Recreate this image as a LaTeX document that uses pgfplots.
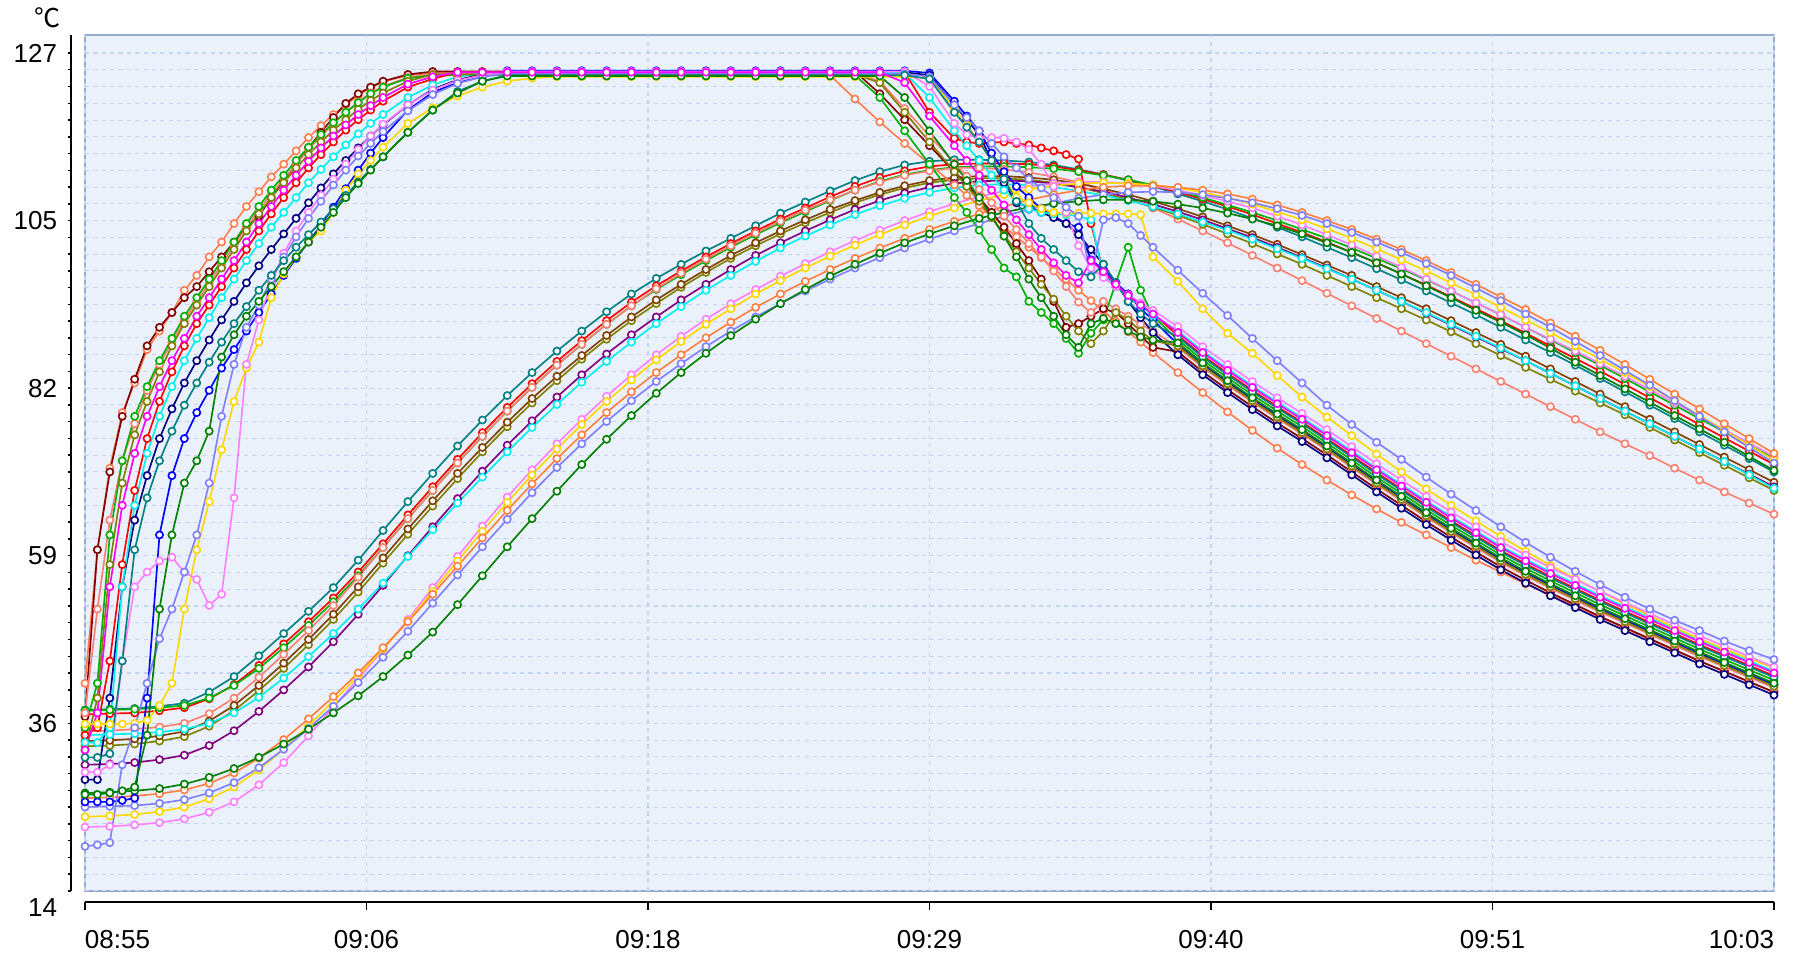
\documentclass[border=0pt]{standalone}
\usepackage{pgfplots}
\usepackage{pgfplotstable}
\pgfplotsset{compat=1.18}
\usepackage{fontspec}
\setmainfont{Liberation Sans}
\newfontfamily\cjk{Noto Sans CJK JP}
\definecolor{bgc}{RGB}{235,241,251}
\definecolor{bordc}{RGB}{150,172,204}
\definecolor{gridc}{RGB}{196,212,240}
\definecolor{tealc}{RGB}{0,128,128}
\definecolor{redc}{RGB}{255,0,0}
\definecolor{greenc}{RGB}{0,176,0}
\definecolor{salmonc}{RGB}{250,128,114}
\definecolor{olivec}{RGB}{128,128,0}
\definecolor{brownc}{RGB}{128,64,0}
\definecolor{purplec}{RGB}{128,0,128}
\definecolor{cyanc}{RGB}{0,240,240}
\definecolor{pinkc}{RGB}{255,128,255}
\definecolor{yellowc}{RGB}{255,215,0}
\definecolor{orangec}{RGB}{255,128,64}
\definecolor{lavc}{RGB}{128,128,255}
\definecolor{dkgreenc}{RGB}{0,128,0}
\definecolor{coralc}{RGB}{255,127,80}
\definecolor{darkredc}{RGB}{128,0,0}
\definecolor{bluec}{RGB}{0,0,255}
\definecolor{navyc}{RGB}{0,0,128}
\definecolor{magentac}{RGB}{255,0,255}

\pgfplotstableread[header=false]{
t 0 1 2 3 4 5 6 7 8 9 10 11 12 13 14 15 16 17 18 19 20 21 22 23 24 25 26 27 28 29 30 31 32 33 34 35 36 37 38 39 40 41 42 43 44 45 46 47 48 49 50 51 52 53 54 55 56 57 58 59 60 61 62 63 64 65 66 67 68
steal 38.4 38.5 38.6 38.9 39.3 40.8 42.9 45.7 48.7 51.7 54.9 58.6 62.6 66.5 70.3 74.0 77.5 80.8 83.9 86.8 89.5 92.1 94.5 96.6 98.5 100.3 102.0 103.7 105.4 106.9 108.4 109.8 111.0 111.9 112.4 112.6 112.6 112.5 112.3 111.9 111.3 110.6 109.8 109.0 108.0 107.0 105.9 104.7 103.5 102.2 100.8 99.4 97.9 96.4 94.9 93.3 91.7 90.0 88.3 86.6 84.9 83.1 81.3 79.5 77.7 75.9 74.1 72.3 70.5
sred 37.8 37.9 38.0 38.3 38.7 39.9 41.8 44.4 47.3 50.3 53.5 57.0 60.8 64.7 68.5 72.2 75.8 79.2 82.4 85.4 88.2 90.9 93.4 95.6 97.6 99.5 101.3 103.0 104.6 106.1 107.6 109.0 110.2 111.1 111.7 112.0 112.1 112.1 112.0 111.7 111.2 110.6 109.9 109.1 108.2 107.3 106.3 105.2 104.0 102.8 101.5 100.1 98.7 97.2 95.7 94.1 92.5 90.9 89.2 87.5 85.8 84.1 82.3 80.5 78.7 76.9 75.1 73.3 71.5
sgreen 38.3 38.4 38.5 38.7 39.0 40.0 41.7 44.0 46.8 49.8 53.0 56.5 60.3 64.2 68.0 71.7 75.3 78.7 81.9 84.9 87.7 90.4 92.9 95.1 97.1 99.0 100.8 102.5 104.1 105.6 107.1 108.5 109.7 110.6 111.2 111.6 111.7 111.7 111.6 111.4 111.0 110.5 109.9 109.2 108.4 107.5 106.5 105.5 104.4 103.2 102.0 100.7 99.3 97.9 96.4 94.9 93.3 91.7 90.0 88.3 86.6 84.9 83.1 81.3 79.5 77.7 75.9 74.1 72.3
ssalmon 35.5 35.6 35.8 36.1 36.6 37.9 40.0 42.8 45.9 49.1 52.5 56.3 60.3 64.2 68.0 71.7 75.3 78.7 81.9 84.9 87.7 90.4 92.9 95.2 97.3 99.2 101.0 102.7 104.3 105.8 107.2 108.5 109.6 110.5 111.1 111.5 111.5 111.3 110.9 110.3 109.6 108.6 107.4 106.1 104.6 103.0 101.4 99.7 98.0 96.3 94.6 92.9 91.2 89.5 87.8 86.1 84.4 82.7 81.0 79.3 77.6 75.9 74.3 72.7 71.0 69.4 67.8 66.3 64.8
solive 33.5 33.6 33.8 34.2 34.8 36.2 38.3 41.0 44.0 47.2 50.6 54.3 58.2 62.1 65.9 69.6 73.2 76.6 79.8 82.8 85.7 88.4 90.9 93.2 95.4 97.4 99.3 101.0 102.6 104.1 105.5 106.8 107.9 108.8 109.5 109.9 110.1 110.1 109.9 109.5 108.9 108.1 107.2 106.2 105.1 103.9 102.6 101.3 99.9 98.5 97.0 95.5 94.0 92.5 91.0 89.4 87.8 86.2 84.6 83.0 81.4 79.8 78.2 76.5 74.8 73.1 71.4 69.7 68.0
sbrown 34.2 34.3 34.5 34.9 35.5 36.9 39.0 41.7 44.7 47.9 51.3 55.0 58.9 62.8 66.6 70.3 73.8 77.2 80.4 83.4 86.2 88.9 91.4 93.7 95.8 97.8 99.7 101.4 103.0 104.5 105.9 107.1 108.2 109.1 109.8 110.2 110.4 110.4 110.2 109.9 109.4 108.7 107.9 107.0 106.0 104.9 103.7 102.5 101.2 99.8 98.4 97.0 95.5 94.0 92.5 90.9 89.3 87.7 86.1 84.4 82.7 81.0 79.3 77.6 75.9 74.2 72.5 70.8 69.1
spurple 31.0 31.1 31.3 31.7 32.3 33.6 35.6 38.2 41.1 44.2 47.6 51.3 55.2 59.2 63.1 66.9 70.6 74.1 77.4 80.6 83.6 86.4 89.0 91.4 93.7 95.8 97.8 99.7 101.4 103.0 104.5 105.9 107.1 108.1 108.9 109.4 109.7 109.8 109.7 109.4 108.9 108.3 107.5 106.6 105.6 104.5 103.3 102.1 100.8 99.4 98.0 96.5 95.0 93.5 91.9 90.3 88.7 87.1 85.5 83.8 82.1 80.4 78.7 77.0 75.3 73.6 71.9 70.2 68.5
scyan 35.0 35.1 35.2 35.4 35.8 36.6 38.0 40.1 42.7 45.6 48.7 52.0 55.5 59.1 62.7 66.3 69.8 73.2 76.5 79.6 82.6 85.4 88.0 90.5 92.8 95.0 97.0 98.9 100.7 102.3 103.8 105.2 106.4 107.4 108.2 108.8 109.2 109.3 109.2 108.9 108.4 107.8 107.1 106.3 105.3 104.2 103.1 101.9 100.6 99.3 97.9 96.5 95.0 93.5 92.0 90.4 88.8 87.2 85.5 83.8 82.1 80.4 78.7 77.0 75.3 73.6 71.9 70.1 68.3
spink 22.6 22.7 22.9 23.2 23.7 24.6 26.0 28.3 31.3 34.9 38.8 42.6 46.5 50.6 54.9 59.1 63.2 67.1 70.8 74.3 77.6 80.7 83.6 86.3 88.8 91.1 93.2 95.1 96.9 98.6 100.2 101.7 103.1 104.4 105.6 106.7 107.6 108.4 109.0 109.4 109.6 109.6 109.4 109.0 108.5 107.8 107.0 106.1 105.0 103.8 102.5 101.1 99.6 98.1 96.5 94.9 93.3 91.7 90.0 88.4 86.8 85.1 83.4 81.6 79.8 78.0 76.2 74.4 72.6
syellow 24.0 24.1 24.3 24.7 25.3 26.4 28.0 30.3 33.1 36.3 39.6 43.0 46.6 50.4 54.4 58.5 62.5 66.4 70.1 73.6 76.9 80.0 82.9 85.6 88.1 90.4 92.5 94.5 96.3 98.0 99.6 101.1 102.5 103.8 105.0 106.1 107.1 107.9 108.6 109.1 109.4 109.5 109.4 109.2 108.8 108.2 107.5 106.6 105.6 104.5 103.3 102.0 100.6 99.1 97.6 96.0 94.4 92.7 91.0 89.3 87.5 85.7 83.9 82.0 80.1 78.1 76.1 74.1 72.1
sorange 26.5 26.6 26.8 27.1 27.6 28.5 29.9 31.9 34.4 37.2 40.2 43.4 46.8 50.3 54.0 57.8 61.6 65.3 68.9 72.3 75.5 78.5 81.3 83.9 86.3 88.6 90.7 92.7 94.5 96.2 97.8 99.3 100.7 102.0 103.2 104.3 105.3 106.3 107.2 107.9 108.5 108.9 109.1 109.1 108.9 108.5 108.0 107.3 106.5 105.5 104.4 103.2 101.9 100.5 99.0 97.4 95.8 94.1 92.4 90.6 88.8 86.9 85.0 83.0 81.0 79.0 77.0 75.0 73.0
slav 25.3 25.4 25.5 25.8 26.3 27.2 28.6 30.6 33.1 35.9 38.9 42.1 45.5 49.0 52.8 56.6 60.4 64.1 67.7 71.1 74.3 77.3 80.1 82.7 85.1 87.4 89.5 91.4 93.2 94.9 96.5 98.0 99.4 100.7 101.9 103.0 104.0 105.0 105.9 106.7 107.4 107.9 108.2 108.3 108.2 107.9 107.4 106.8 106.0 105.1 104.0 102.8 101.5 100.1 98.6 97.0 95.3 93.6 91.8 90.0 88.1 86.2 84.2 82.2 80.1 78.0 75.9 73.8 71.7
sdkgreen 27.2 27.3 27.5 27.8 28.4 29.3 30.5 32.0 33.8 35.8 38.0 40.3 42.9 45.8 48.9 52.6 56.5 60.4 64.2 67.9 71.5 74.9 78.1 81.1 83.9 86.5 88.9 91.1 93.2 95.1 96.9 98.5 100.0 101.4 102.6 103.7 104.7 105.5 106.2 106.7 107.0 107.2 107.2 107.0 106.6 106.1 105.4 104.6 103.7 102.6 101.4 100.1 98.7 97.2 95.6 94.0 92.3 90.7 89.0 87.2 85.3 83.5 81.7 79.9 78.1 76.3 74.5 72.6 70.7
}\slowraw
\pgfplotstabletranspose[colnames from=0]{\slow}{\slowraw}

\pgfplotstableread[header=false]{
t 0 0.5 1 1.5 2 2.5 3 3.5 4 4.5 5 5.5 6 6.5 7 7.5 8 8.5 9 9.5 10 10.5 11 11.5 12 13 14 15 16 17 18 19 20 21 22 23 24 25 26 27 28 29 30 31 32 33 34 35 35.5 36 36.5 37 37.5 38 38.5 39 39.5 40 40.5 41 41.5 42 42.5 43 44 45 46 47 48 49 50 51 52 53 54 55 56 57 58 59 60 61 62 63 64 65 66 67 68
fcoral 42 60 71 78.5 82.5 87 89.5 92 95 97 99.5 101.5 104 106.3 108.3 110.3 112 113.8 115.6 117.2 118.7 120 121.3 122.3 123.1 124.0 124.3 124.3 124.3 124.3 124.3 124.3 124.3 124.3 124.3 124.3 124.3 124.3 124.3 124.3 124.3 124.3 124.0 120.8 117.7 114.8 112.0 109.2 107.8 106.4 105.0 103.6 102.2 100.8 99.4 97.9 96.5 95.0 93.6 92.2 90.8 89.4 88.0 86.6 83.9 81.2 78.6 76.1 73.7 71.5 69.4 67.4 65.5 63.7 62.0 60.3 58.6 57.0 55.4 53.9 52.4 50.9 49.4 47.9 46.4 45.0 43.6 42.2 40.8
fdarkred 37.5 60 70.5 78 83 87.5 90 92 94 95.5 97.5 99.5 101.5 103.5 105 107.5 109.8 112 114.2 116.3 118.3 120.2 121.5 122.4 123.2 124.1 124.5 124.5 124.5 124.5 124.5 124.5 124.5 124.5 124.5 124.5 124.5 124.5 124.5 124.5 124.5 124.5 124.5 124.5 121.5 118.0 114.5 111 109.3 107.5 105.5 103.5 101.3 99 96.5 93.5 90 90.5 91.5 92.5 92 90.5 88.8 87.3 86.7 84.0 81.6 79.3 77.1 75.0 72.8 70.5 68.2 66.0 63.8 61.7 59.7 57.7 55.9 54.2 52.6 51.0 49.5 48.0 46.5 45.0 43.6 42.2 40.8
fsalmon 38 52 64 72 77 81.5 85 88 91 93.5 96 98.5 101 103.5 105.8 108 110 112 114 115.8 117.5 119 120.4 121.6 122.5 123.7 124.2 124.2 124.2 124.2 124.2 124.2 124.2 124.2 124.2 124.2 124.2 124.2 124.2 124.2 124.2 124.2 124.2 124.2 123.2 119.5 115.8 112.2 110.4 108.6 106.8 105 103.2 101.3 99.5 97.6 95.5 93.4 92 93.5 92.5 91.5 90.4 89.5 87.3 84.6 82.2 79.9 77.7 75.6 73.4 71.1 68.8 66.6 64.4 62.3 60.3 58.3 56.5 54.8 53.2 51.6 50.1 48.6 47.1 45.6 44.2 42.8 41.4
fgreen 36 42 62 72 78 82 85.5 88.5 91.5 94 96.5 99 101.5 104 106.3 108.5 110.5 112.5 114.3 116 117.6 119 120.3 121.5 122.4 123.6 124.0 124.0 124.0 124.0 124.0 124.0 124.0 124.0 124.0 124.0 124.0 124.0 124.0 124.0 124.0 124.0 124.0 124.0 121.0 116.5 112.0 107.5 105.5 103.1 100.5 98 96.8 93.5 92 90.5 88.5 86.5 89.2 91 96 100.8 95 91.5 88.3 85.6 83.2 80.9 78.7 76.6 74.4 72.1 69.8 67.6 65.4 63.3 61.3 59.3 57.5 55.8 54.2 52.6 51.1 49.6 48.1 46.6 45.2 43.8 42.4
fred 35 36 45 58 68 75 80 84 87.5 90.5 93 95.5 98 100.5 103 105.3 107.5 109.5 111.5 113.3 115 116.6 118 119.3 120.5 122.4 123.5 124.4 124.4 124.4 124.4 124.4 124.4 124.4 124.4 124.4 124.4 124.4 124.4 124.4 124.4 124.4 124.4 124.4 124.4 124.4 119.0 115.5 115.0 114.8 114.9 115.0 114.8 114.6 114.2 113.8 113.3 112.7 104 97.5 95.5 94.5 93 91.8 88.9 86.2 83.8 81.5 79.3 77.2 75.0 72.7 70.4 68.2 66.0 63.9 61.9 59.9 58.1 56.4 54.8 53.2 51.7 50.2 48.7 47.2 45.8 44.4 43.0
fblue 26 26 26 26.2 26.5 40 62 70 75 78.5 81.5 84.5 87 89.5 92 94.5 97 99.3 101.5 103.8 106.2 108.7 111.2 113.5 115.6 119.3 121.7 123.0 123.8 124.6 124.6 124.6 124.6 124.6 124.6 124.6 124.6 124.6 124.6 124.6 124.6 124.6 124.6 124.6 124.6 124.6 124.3 120.5 118.5 116.5 113.5 111 109 107.5 106 105 104 103.5 99.1 97.8 96 94.5 92.5 91.0 87.7 85.0 82.6 80.3 78.1 76.0 73.8 71.5 69.2 67.0 64.8 62.7 60.7 58.7 56.9 55.2 53.6 52.0 50.5 49.0 47.5 46.0 44.6 43.2 41.8
fnavy 29 29 40 55 64 70 75 79 82.5 85.5 88.3 91 93.5 96 98.3 100.5 102.6 104.7 106.8 108.8 110.7 112.5 114.2 115.8 117.3 120.0 122.1 123.4 124.1 124.4 124.4 124.4 124.4 124.4 124.4 124.4 124.4 124.4 124.4 124.4 124.4 124.4 124.4 124.4 124.4 124.4 124.0 120.0 118 116.0 112.5 109.5 106.8 106.2 105.5 104.8 104 102.5 100.5 98.5 96 93.5 91.3 89.3 86.3 83.6 81.2 78.9 76.7 74.6 72.4 70.1 67.8 65.6 63.4 61.3 59.3 57.3 55.5 53.8 52.2 50.6 49.1 47.6 46.1 44.6 43.2 41.8 40.4
fcyan 34 34 36 55 66 73 78 82 85.5 88.5 91.3 94 96.5 99 101.3 103.5 105.5 107.5 109.5 111.3 113 114.6 116.1 117.5 118.7 121.0 122.7 123.8 124.3 124.3 124.3 124.3 124.3 124.3 124.3 124.3 124.3 124.3 124.3 124.3 124.3 124.3 124.3 124.3 124.3 124.3 121.0 116.5 114.5 112.5 110.5 108.5 107 106 105.5 105.3 105.2 105.0 104.5 97 95.5 94.2 92.9 91.6 89.5 86.8 84.4 82.1 79.9 77.8 75.6 73.3 71.0 68.8 66.6 64.5 62.5 60.5 58.7 57.0 55.4 53.8 52.3 50.8 49.3 47.8 46.4 45.0 43.6
folive 33 40 58 69 75.5 80 84 87.5 90.5 93 95.5 98 100.5 103 105.3 107.5 109.5 111.5 113.3 115 116.6 118 119.4 120.6 121.6 123.2 124.1 124.1 124.1 124.1 124.1 124.1 124.1 124.1 124.1 124.1 124.1 124.1 124.1 124.1 124.1 124.1 124.1 124.1 123.0 119.0 115.0 111 109 107 104.8 102.5 100.2 98 95.8 93.8 91.5 89.5 87.8 89.5 92 91 89.5 88.2 87.5 84.8 82.4 80.1 77.9 75.8 73.6 71.3 69.0 66.8 64.6 62.5 60.5 58.5 56.7 55.0 53.4 51.8 50.3 48.8 47.3 45.8 44.4 43.0 41.6
fyellow 36.5 36.5 36.5 36.5 36.6 37 39 42 52 60 66.5 73.5 80 84.5 88 94 97.2 99.5 101.5 103 105.5 108.5 110.7 112.5 114.3 117.5 119.6 121.2 122.4 123.2 123.6 123.8 123.8 123.8 123.8 123.8 123.8 123.8 123.8 123.8 123.8 123.8 123.8 123.8 123.8 123.8 123.6 119.5 117.3 115 112.5 110 107.6 106.8 106 105.5 105.4 105.4 105.4 105.3 105.3 105.3 105.2 99.5 96.2 92.5 89.2 86.5 83.5 80.6 77.9 75.4 72.9 70.5 68.2 66.0 63.9 61.8 59.8 57.9 56.1 54.4 52.7 51.1 49.5 48.0 46.6 45.3 44.1
fpink 30 30 31 45 55 57 58.5 59 57 56 52.5 54 67 85 91 96 100 103 105.5 107.8 110 112 114 115.8 117.4 120.0 122.0 123.3 124.0 124.5 124.5 124.5 124.5 124.5 124.5 124.5 124.5 124.5 124.5 124.5 124.5 124.5 124.5 124.5 124.5 124.5 122.5 117.5 116 115.5 115.6 115.5 115.0 114.0 112 109 105.5 101 98 96.7 95.5 94.4 93.3 92.3 90.1 87.4 85.0 82.7 80.5 78.4 76.2 73.9 71.6 69.4 67.2 65.1 63.1 61.1 59.3 57.6 56.0 54.4 52.9 51.4 49.9 48.4 47.0 45.6 44.2
flav 20 20.2 20.5 31 36 42 48 52 57 62 69 78 85 90 93 96.5 99.5 102.2 104.7 107 109.2 111.2 113.1 114.8 116.4 119.2 121.4 122.9 123.8 124.2 124.2 124.2 124.2 124.2 124.2 124.2 124.2 124.2 124.2 124.2 124.2 124.2 124.2 124.2 124.2 124.2 123.8 120 118.3 116.5 114.8 113 111.5 110 108.8 107.5 106.2 105 97 104.5 104.8 104.0 102.4 100.8 97.7 94.6 91.6 88.5 85.5 82.5 79.5 76.9 74.5 72.2 69.8 67.5 65.3 63.1 61.0 59.0 57.1 55.3 53.6 52.0 50.5 49.1 47.7 46.4 45.2
fteal 32 32 32.5 45 60 67 72 76 79.5 82.5 85.3 88 90.5 92.8 95 97 99 100.8 102.5 104.2 106 107.8 109.6 111.3 113 116.3 119.3 121.8 123.2 124.0 124.0 124.0 124.0 124.0 124.0 124.0 124.0 124.0 124.0 124.0 124.0 124.0 124.0 124.0 124.0 124.0 123.5 119 117 115 112.5 110 107 104 102 100.5 99 97.5 96.8 98.5 96 93.5 91.8 90.5 88.7 86.0 83.6 81.3 79.1 77.0 74.8 72.5 70.2 68.0 65.8 63.7 61.7 59.7 57.9 56.2 54.6 53.0 51.5 50.0 48.5 47.0 45.6 44.2 42.8
fdkgreen 27 27 27.2 27.5 28 35 52 62 69 72 76 86 89 91.5 93.5 95.5 97.5 99.5 101.5 103.5 105.5 107.5 109.4 111.2 113 116.3 119.3 121.6 123.2 123.9 123.9 123.9 123.9 123.9 123.9 123.9 123.9 123.9 123.9 123.9 123.9 123.9 123.9 123.9 123.9 121.0 116.5 112 109.8 107.5 105 102.3 99.5 96.5 94 91.5 89 87.3 90.5 91.2 90.5 89.5 88.7 88.3 87.9 85.2 82.8 80.5 78.3 76.2 74.0 71.7 69.4 67.2 65.0 62.9 60.9 58.9 57.1 55.4 53.8 52.2 50.7 49.2 47.7 46.2 44.8 43.4 42.0
fmagenta 33 38 55 66 73 78 82 85.5 88.5 91.5 94 96.5 99 101.5 104 106.3 108.5 110.5 112.4 114.2 115.8 117.3 118.7 119.9 121 122.8 123.8 124.4 124.4 124.4 124.4 124.4 124.4 124.4 124.4 124.4 124.4 124.4 124.4 124.4 124.4 124.4 124.4 124.4 124.4 123.0 118.5 114.5 112.5 110.5 108.5 106.5 104.5 102.5 100.5 98.7 97 96 99 97.5 95.8 94.3 93 91.8 89.3 86.6 84.2 81.9 79.7 77.6 75.4 73.1 70.8 68.6 66.4 64.3 62.3 60.3 58.5 56.8 55.2 53.6 52.1 50.6 49.1 47.6 46.2 44.8 43.4
}\fastraw
\pgfplotstabletranspose[colnames from=0]{\fast}{\fastraw}

\pgfplotsset{ser/.style={draw=#1, line width=0.55pt, mark=*, mark size=1.2pt,
  mark options={draw=#1, fill=white, line width=0.55pt, solid}}}

\begin{document}
\begin{tikzpicture}
\begin{axis}[
  width=565.2pt, height=286.4pt, scale only axis,
  xmin=0, xmax=68, ymin=14, ymax=129.43,
  axis x line=bottom, axis y line=left,
  axis line style={-, black, line width=0.6pt},
  axis x line shift=3.7pt, axis y line shift=4.7pt,
  axis background/.style={fill=bgc, draw=bordc, line width=0.7pt},
  xtick={0,11.3333,22.6667,34,45.3333,56.6667,68},
  xticklabels={\rlap{08:55},09:06,09:18,09:29,09:40,09:51,\llap{10:03}},
  ytick={14,36.6,59.2,81.8,104.4,127},
  yticklabels={\raisebox{-8.5pt}[0pt][0pt]{14},36,59,82,105,127},
  minor y tick num=9,
  tick align=outside,
  major tick length=1.1pt, minor tick length=1.1pt,
  xtick style={/pgfplots/major tick length=2.7pt, black, line width=0.6pt},
  ytick style={black, line width=0.5pt},
  tick label style={font=\fontsize{8.7}{10}\selectfont, text=black},
  xticklabel style={yshift=-5pt},
  xmajorgrids=true, ymajorgrids=true, yminorgrids=true,
  major grid style={gridc, line width=0.35pt, dash pattern=on 1.4pt off 1.4pt},
  minor grid style={gridc, line width=0.35pt, dash pattern=on 1.4pt off 1.4pt},
  clip=true,
]
\addplot[ser=tealc] table[x=t, y=steal] {\slow};
\addplot[ser=redc] table[x=t, y=sred] {\slow};
\addplot[ser=greenc] table[x=t, y=sgreen] {\slow};
\addplot[ser=salmonc] table[x=t, y=ssalmon] {\slow};
\addplot[ser=olivec] table[x=t, y=solive] {\slow};
\addplot[ser=brownc] table[x=t, y=sbrown] {\slow};
\addplot[ser=purplec] table[x=t, y=spurple] {\slow};
\addplot[ser=cyanc] table[x=t, y=scyan] {\slow};
\addplot[ser=pinkc] table[x=t, y=spink] {\slow};
\addplot[ser=yellowc] table[x=t, y=syellow] {\slow};
\addplot[ser=orangec] table[x=t, y=sorange] {\slow};
\addplot[ser=lavc] table[x=t, y=slav] {\slow};
\addplot[ser=dkgreenc] table[x=t, y=sdkgreen] {\slow};
\addplot[ser=coralc] table[x=t, y=fcoral] {\fast};
\addplot[ser=darkredc] table[x=t, y=fdarkred] {\fast};
\addplot[ser=salmonc] table[x=t, y=fsalmon] {\fast};
\addplot[ser=greenc] table[x=t, y=fgreen] {\fast};
\addplot[ser=redc] table[x=t, y=fred] {\fast};
\addplot[ser=bluec] table[x=t, y=fblue] {\fast};
\addplot[ser=navyc] table[x=t, y=fnavy] {\fast};
\addplot[ser=cyanc] table[x=t, y=fcyan] {\fast};
\addplot[ser=olivec] table[x=t, y=folive] {\fast};
\addplot[ser=yellowc] table[x=t, y=fyellow] {\fast};
\addplot[ser=pinkc] table[x=t, y=fpink] {\fast};
\addplot[ser=lavc] table[x=t, y=flav] {\fast};
\addplot[ser=tealc] table[x=t, y=fteal] {\fast};
\addplot[ser=dkgreenc] table[x=t, y=fdkgreen] {\fast};
\addplot[ser=magentac] table[x=t, y=fmagenta] {\fast};
\coordinate (BL) at (rel axis cs:0,0);
\coordinate (TR) at (rel axis cs:1,1);
\coordinate (TL) at (rel axis cs:0,1);
\end{axis}
\node[font=\cjk\fontsize{8.7}{10}\selectfont] at ([xshift=-12.4pt,yshift=5.7pt]TL) {℃};
\pgfresetboundingbox
\useasboundingbox ([xshift=-28.44pt,yshift=-22.09pt]BL) rectangle ([xshift=6.36pt,yshift=11.71pt]TR);
\end{tikzpicture}
\end{document}
